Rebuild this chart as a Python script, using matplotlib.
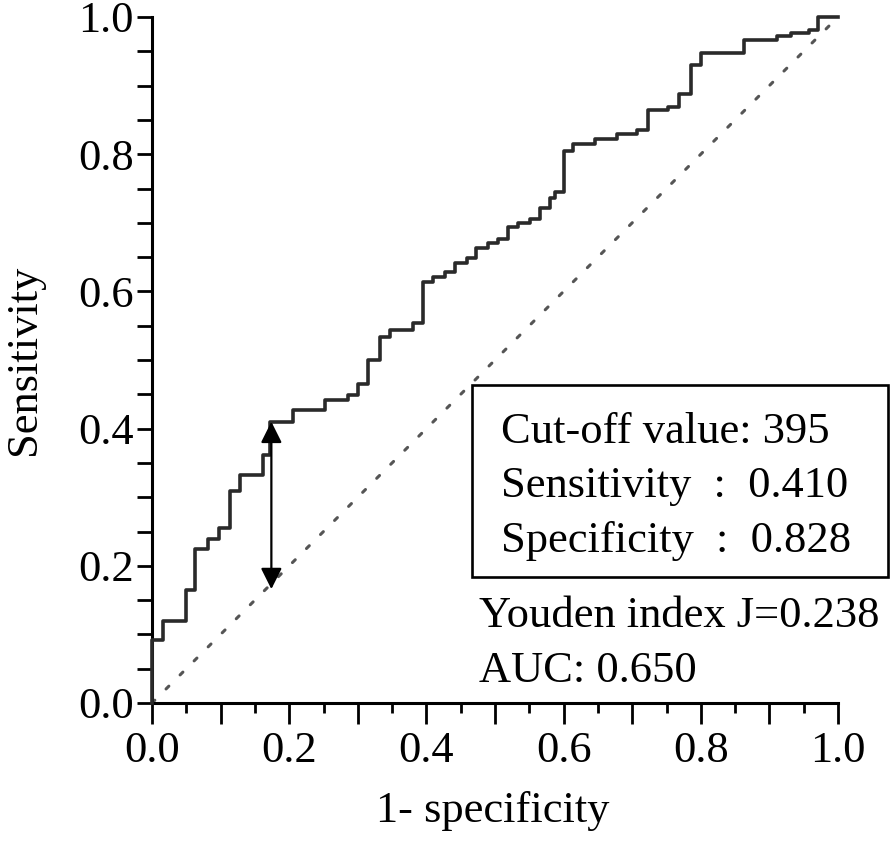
import numpy as np
import matplotlib
matplotlib.use("Agg")
import matplotlib.pyplot as plt
from matplotlib.patches import Rectangle
from matplotlib.ticker import MultipleLocator, FuncFormatter

plt.rcParams['font.family'] = ['Liberation Serif', 'DejaVu Serif']

# ROC step points (1-specificity, sensitivity)
fpr = [0.0, 0.0, 0.0165, 0.049, 0.063, 0.082, 0.098, 0.113, 0.129, 0.162,
       0.172, 0.206, 0.252, 0.286, 0.301, 0.3155, 0.332, 0.347, 0.381, 0.3945,
       0.410, 0.427, 0.442, 0.459, 0.473, 0.490, 0.505, 0.519, 0.534, 0.551,
       0.566, 0.580, 0.588, 0.600, 0.614, 0.646, 0.678, 0.7065, 0.7235, 0.7526,
       0.768, 0.785, 0.800, 0.863, 0.911, 0.932, 0.957, 0.971, 1.0]
tpr = [0.0, 0.092, 0.120, 0.165, 0.225, 0.239, 0.255, 0.309, 0.333, 0.362,
       0.410, 0.427, 0.441, 0.449, 0.465, 0.500, 0.534, 0.544, 0.554, 0.614,
       0.621, 0.629, 0.641, 0.648, 0.663, 0.670, 0.677, 0.694, 0.699, 0.705,
       0.722, 0.736, 0.745, 0.804, 0.815, 0.822, 0.830, 0.836, 0.865, 0.869,
       0.888, 0.930, 0.948, 0.967, 0.972, 0.976, 0.981, 1.0, 1.0]

cutoff_fpr = 0.174
cutoff_sens = 0.410
cutoff_diag = 0.166

box_lines = ["Cut-off value: 395", "Sensitivity  :  0.410", "Specificity  :  0.828"]
extra_lines = ["Youden index J=0.238", "AUC: 0.650"]

W, H = 894, 841
fig = plt.figure(figsize=(W / 100, H / 100), dpi=100)
ax = fig.add_axes([152 / W, 1 - 703 / H, 686 / W, 686 / H])

ax.plot([0, 1], [0, 1], color="#555555", lw=2.2, linestyle=(0, (1.3, 5.2)),
        dash_capstyle="round")
ax.step(fpr, tpr, where="post", color="#2a2a2a", lw=2.6, clip_on=False, zorder=3)

ax.annotate("", xy=(cutoff_fpr, cutoff_sens), xytext=(cutoff_fpr, cutoff_diag),
            arrowprops=dict(arrowstyle="<|-|>", color="black", lw=1.6,
                            mutation_scale=32, shrinkA=0, shrinkB=0))

ax.set_xlim(0, 1)
ax.set_ylim(0, 1)
for s in ["top", "right"]:
    ax.spines[s].set_visible(False)
for s in ["left", "bottom"]:
    ax.spines[s].set_linewidth(2.2)

ax.xaxis.set_major_locator(MultipleLocator(0.1))
ax.xaxis.set_minor_locator(MultipleLocator(0.05))
ax.xaxis.set_major_formatter(FuncFormatter(
    lambda v, p: f"{v:.1f}" if round(v * 10) % 2 == 0 else ""))
ax.yaxis.set_major_locator(MultipleLocator(0.2))
ax.yaxis.set_minor_locator(MultipleLocator(0.05))
ax.yaxis.set_major_formatter(FuncFormatter(lambda v, p: f"{v:.1f}"))

ax.tick_params(axis="x", which="major", direction="out", length=15, width=2,
               labelsize=32, pad=5)
ax.tick_params(axis="x", which="minor", direction="out", length=7, width=2)
ax.tick_params(axis="y", which="both", direction="out", length=11, width=2,
               labelsize=32, pad=2)

ax.set_xlabel("1- specificity", fontsize=32)
ax.set_ylabel("Sensitivity", fontsize=32)
ax.xaxis.set_label_coords(0.496, -0.128)
ax.yaxis.set_label_coords(-0.158, 0.5)

# text box
fig.patches.append(Rectangle((472 / W, 1 - 577 / H), 416 / W, 192 / H,
                             transform=fig.transFigure, fill=False,
                             edgecolor="black", lw=1.9))
for txt, base in zip(box_lines, [443, 497, 552]):
    fig.text(501 / W, 1 - base / H, txt, fontsize=32, ha="left", va="baseline")
for txt, base in zip(extra_lines, [627, 682]):
    fig.text(479 / W, 1 - base / H, txt, fontsize=32, ha="left", va="baseline")

fig.savefig("out.png", dpi=100, facecolor="white")
